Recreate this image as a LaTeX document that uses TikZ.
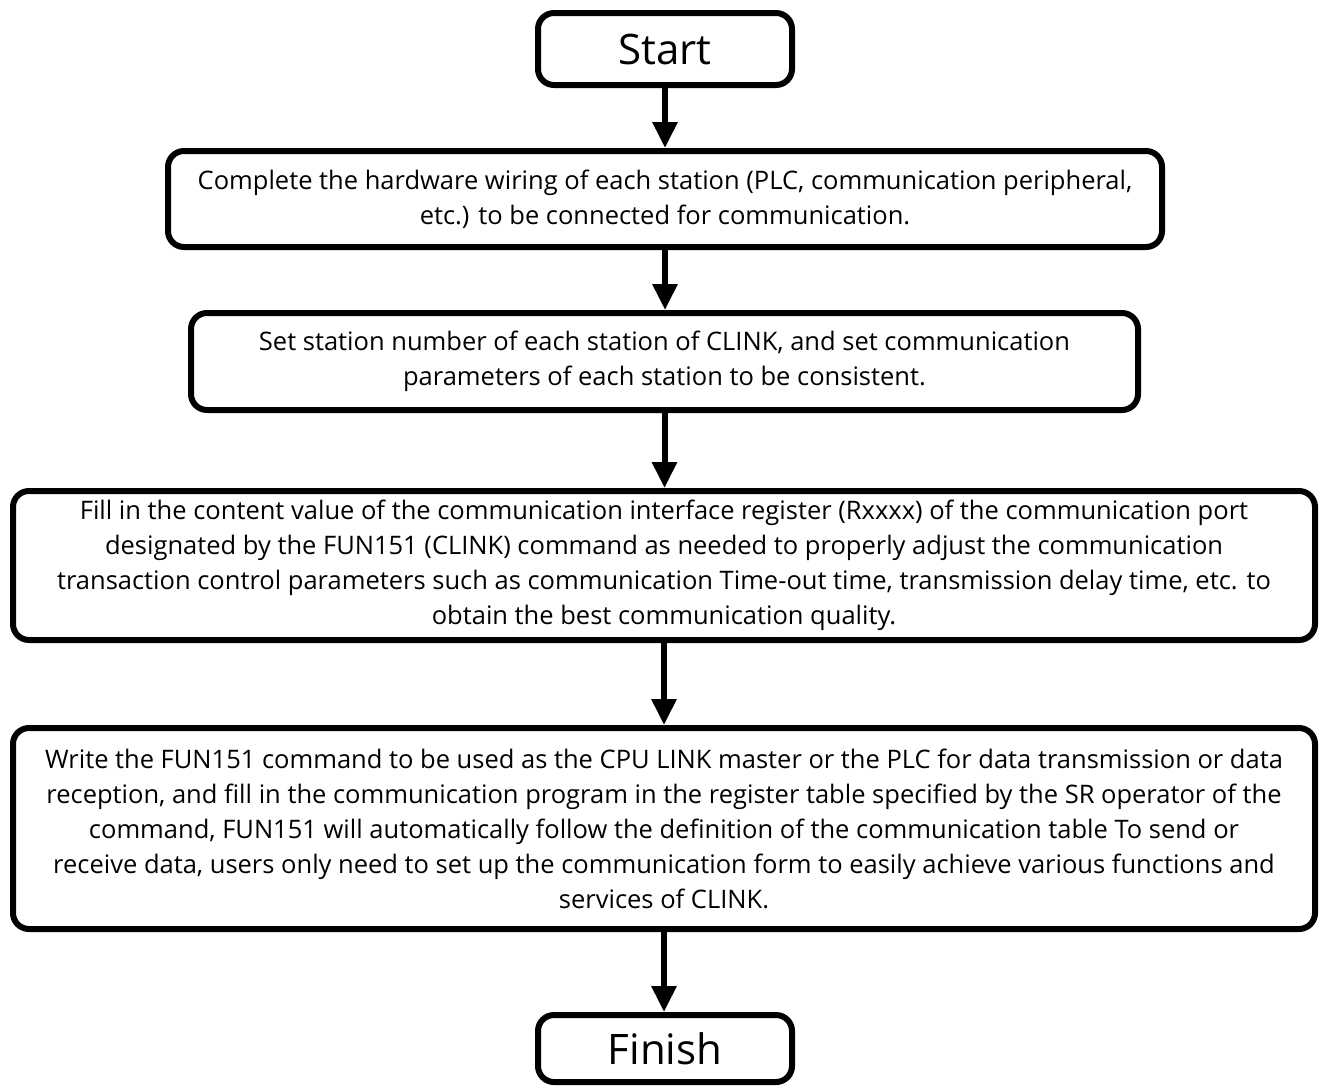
\documentclass[tikz,border=0pt]{standalone}
\usepackage{fontspec}
\setmainfont{Open Sans}
\usetikzlibrary{arrows.meta}
\begin{document}
\begin{tikzpicture}[x=1pt,y=-1pt,
  box/.style={draw, line width=6pt, rounded corners=16pt, align=center,
    inner sep=0pt, font=\fontsize{25.5}{35}\selectfont},
  term/.style={box, font=\fontsize{42}{48}\selectfont},
  arr/.style={line width=6pt, -{Triangle[width=24pt,length=26pt]}}]
\useasboundingbox (0,0) rectangle (1322,1087);
\fill[white] (0,0) rectangle (1322,1087);

\node[term, minimum width=254pt, minimum height=72pt] (start) at (665,49) {Start};

\node[box, minimum width=994pt, minimum height=96pt] (wire) at (665,199)
  {Complete the hardware wiring of each station (PLC, communication peripheral,\\
   etc.) to be connected for communication.};

\node[box, minimum width=947pt, minimum height=97pt] (station) at (664.5,361.5)
  {Set station number of each station of CLINK, and set communication\\
   parameters of each station to be consistent.};

\node[box, minimum width=1302pt, minimum height=149pt] (reg) at (664,565.5)
  {Fill in the content value of the communication interface register (Rxxxx) of the communication port\\
   designated by the FUN151 (CLINK) command as needed to properly adjust the communication\\
   transaction control parameters such as communication Time-out time, transmission delay time, etc. to\\
   obtain the best communication quality.};

\node[box, minimum width=1302pt, minimum height=201pt] (prog) at (664,828.5)
  {Write the FUN151 command to be used as the CPU LINK master or the PLC for data transmission or data\\
   reception, and fill in the communication program in the register table specified by the SR operator of the\\
   command, FUN151 will automatically follow the definition of the communication table To send or\\
   receive data, users only need to set up the communication form to easily achieve various functions and\\
   services of CLINK.};

\node[term, minimum width=254pt, minimum height=67pt] (finish) at (665,1048.5) {Finish};

\draw[arr] (start.south) -- (wire.north);
\draw[arr] (wire.south) -- (wire.south |- station.north);
\draw[arr] (station.south) -- (station.south |- reg.north);
\draw[arr] (reg.south) -- (reg.south |- prog.north);
\draw[arr] (prog.south) -- (prog.south |- finish.north);
\end{tikzpicture}
\end{document}
